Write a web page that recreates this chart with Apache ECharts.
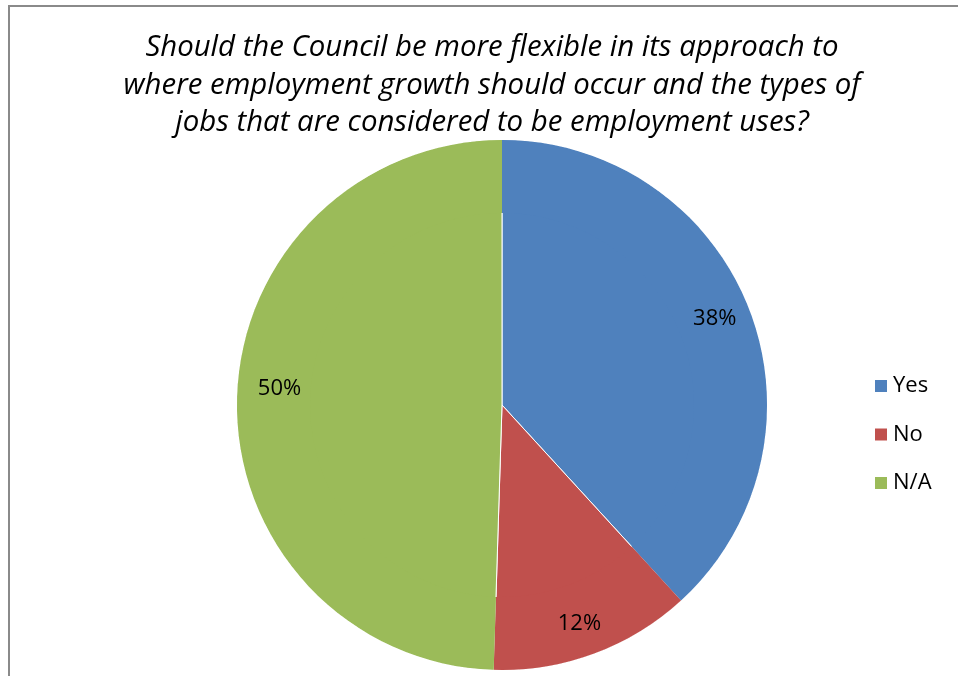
<!DOCTYPE html>
<html>
<head>
<meta charset="utf-8">
<script src="https://cdn.jsdelivr.net/npm/echarts@6/dist/echarts.min.js"></script>
<style>
html,body{margin:0;padding:0;background:#fff;}
#frame{position:absolute;left:8px;top:5px;width:1000px;height:700px;border-left:2px solid #8a8a8a;border-top:2px solid #8a8a8a;box-sizing:border-box;}
#chart{position:absolute;left:0;top:0;width:958px;height:676px;}
</style>
</head>
<body>
<div id="frame"></div>
<div id="chart"></div>
<script>
const titleText = 'Should the Council be more flexible in its approach to\nwhere employment growth should occur and the types of\njobs that are considered to be employment uses?';
const categories = ['Yes', 'No', 'N/A'];
const shares = [38.2, 12.3, 49.5];
const colors = ['#4F81BD', '#C0504D', '#9BBB59'];

const data = categories.map((c, i) => ({ name: c, value: shares[i], itemStyle: { color: colors[i] } }));
const font = '"Open Sans", "Liberation Sans", sans-serif';
const labelNudge = [[-3, -2], [-3, 2], [9, -13]];

const chart = echarts.init(document.getElementById('chart'));
chart.setOption({
  animation: false,
  backgroundColor: 'transparent',
  title: {
    text: titleText,
    left: 487, top: 24, textAlign: 'center',
    textStyle: { fontFamily: font, fontStyle: 'italic', fontWeight: 'normal', fontSize: 29.4, lineHeight: 37.5, color: '#000' }
  },
  legend: {
    orient: 'vertical', left: 868, top: 370,
    itemWidth: 14, itemHeight: 14, itemGap: 26.5, icon: 'rect',
    data: categories,
    textStyle: { fontFamily: font, fontSize: 22, lineHeight: 22, color: '#000' }
  },
  series: [
    {
      type: 'pie', center: [502, 405], radius: [0, 265], startAngle: 90, clockwise: true,
      data: data, silent: true,
      itemStyle: { borderColor: '#fff', borderWidth: 1 },
      label: { show: false }, labelLine: { show: false }
    },
    {
      type: 'pie', center: [502, 405], radius: [192, 265], startAngle: 90, clockwise: true,
      data: data, silent: true, legendHoverLink: false,
      itemStyle: { color: 'rgba(0,0,0,0)', borderWidth: 0 },
      label: {
        show: true, position: 'inside', fontFamily: font, fontSize: 22, color: '#000',
        formatter: p => Math.round(p.percent) + '%'
      },
      labelLayout: p => ({ dx: labelNudge[p.dataIndex][0], dy: labelNudge[p.dataIndex][1] }),
      labelLine: { show: false }
    }
  ]
});
</script>
</body>
</html>
